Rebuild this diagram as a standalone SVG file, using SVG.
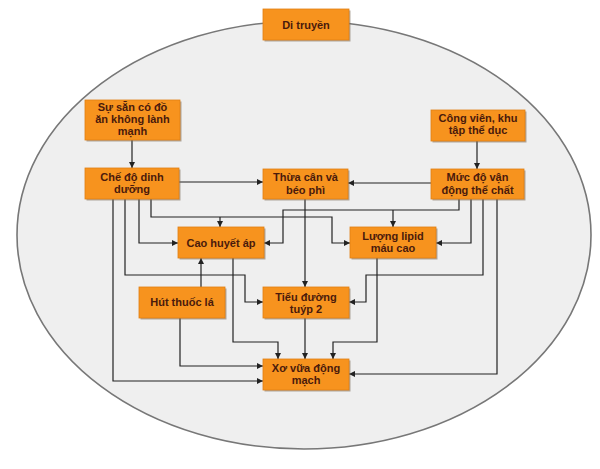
<svg xmlns="http://www.w3.org/2000/svg" width="600" height="469" viewBox="0 0 600 469">
<style>
.bx{fill:#f7931e;stroke:#e07f12;stroke-width:0.8}
.sh{fill:#7a6a5a;opacity:0.55}
.t{font-family:"Liberation Sans",Arial,sans-serif;font-size:11px;font-weight:bold;fill:#4a1a0c;text-anchor:middle}
.c{fill:none;stroke:#222;stroke-width:1.2}
</style>
<defs>
<marker id="a" markerUnits="userSpaceOnUse" markerWidth="7" markerHeight="6" refX="6" refY="3" orient="auto">
<path d="M0,0 L6,3 L0,6 Z" fill="#222"/>
</marker>
</defs>
<rect width="600" height="469" fill="#ffffff"/>
<ellipse cx="304" cy="235" rx="287" ry="214" fill="#efefef" stroke="#777" stroke-width="1.6"/>
<g id="connectors">
<path class="c" marker-end="url(#a)" d="M132,140 V168"/>
<path class="c" marker-end="url(#a)" d="M477,141 V169"/>
<path class="c" marker-end="url(#a)" d="M179,182 H263"/>
<path class="c" marker-end="url(#a)" d="M431,183 H348"/>
<path class="c" marker-end="url(#a)" d="M151,199 V217 H332 V243 H350"/>
<path class="c" marker-end="url(#a)" d="M220,217 V227"/>
<path class="c" marker-end="url(#a)" d="M139,199 V243 H178"/>
<path class="c" marker-end="url(#a)" d="M125,199 V275 H245 V302 H263"/>
<path class="c" marker-end="url(#a)" d="M113,199 V381 H263"/>
<path class="c" marker-end="url(#a)" d="M233,258 V342 H278 V359"/>
<path class="c" marker-end="url(#a)" d="M201,287 V258"/>
<path class="c" marker-end="url(#a)" d="M180,318 V366 H263"/>
<path class="c" marker-end="url(#a)" d="M305,199 V287"/>
<path class="c" marker-end="url(#a)" d="M305,318 V359"/>
<path class="c" marker-end="url(#a)" d="M377,258 V342 H333 V359"/>
<path class="c" marker-end="url(#a)" d="M459,199 V210 H283 V243 H264"/>
<path class="c" marker-end="url(#a)" d="M393,210 V227"/>
<path class="c" marker-end="url(#a)" d="M471,199 V243 H436"/>
<path class="c" marker-end="url(#a)" d="M483,199 V275 H366 V302 H349"/>
<path class="c" marker-end="url(#a)" d="M497,199 V374 H349"/>
</g>
<g id="di-truyen">
<rect class="sh" x="264.5" y="10.5" width="86" height="31"/>
<rect class="bx" x="263" y="9" width="86" height="31"/>
<text class="t" x="306" y="28.5">Di truyền</text>
</g>
<g id="su-san-co">
<rect class="sh" x="86.5" y="101.5" width="95" height="40"/>
<rect class="bx" x="85" y="100" width="95" height="40"/>
<text class="t" x="132.5" y="110.6">Sự sẵn có đồ<tspan x="132.5" dy="12.4">ăn không lành</tspan><tspan x="132.5" dy="12.4">mạnh</tspan></text>
</g>
<g id="cong-vien">
<rect class="sh" x="432.5" y="111.5" width="94" height="31"/>
<rect class="bx" x="431" y="110" width="94" height="31"/>
<text class="t" x="478" y="122">Công viên, khu<tspan x="478" dy="12.4">tập thể dục</tspan></text>
</g>
<g id="che-do">
<rect class="sh" x="86.5" y="169.5" width="94" height="31"/>
<rect class="bx" x="85" y="168" width="94" height="31"/>
<text class="t" x="132" y="180.7">Chế độ dinh<tspan x="132" dy="12.6">dưỡng</tspan></text>
</g>
<g id="thua-can">
<rect class="sh" x="264.5" y="170.5" width="85" height="30"/>
<rect class="bx" x="263" y="169" width="85" height="30"/>
<text class="t" x="305.5" y="181.3">Thừa cân và<tspan x="305.5" dy="12.7">béo phì</tspan></text>
</g>
<g id="muc-do">
<rect class="sh" x="432.5" y="170.5" width="93" height="30"/>
<rect class="bx" x="431" y="169" width="93" height="30"/>
<text class="t" x="477.5" y="181">Mức độ vận<tspan x="477.5" dy="13">động thể chất</tspan></text>
</g>
<g id="cao-huyet-ap">
<rect class="sh" x="179.5" y="228.5" width="86" height="31"/>
<rect class="bx" x="178" y="227" width="86" height="31"/>
<text class="t" x="221" y="246.7">Cao huyết áp</text>
</g>
<g id="luong-lipid">
<rect class="sh" x="351.5" y="228.5" width="86" height="31"/>
<rect class="bx" x="350" y="227" width="86" height="31"/>
<text class="t" x="393" y="239.8">Lượng lipid<tspan x="393" dy="12.4">máu cao</tspan></text>
</g>
<g id="hut-thuoc">
<rect class="sh" x="140.5" y="288.5" width="86" height="31"/>
<rect class="bx" x="139" y="287" width="86" height="31"/>
<text class="t" x="182" y="305.7">Hút thuốc lá</text>
</g>
<g id="tieu-duong">
<rect class="sh" x="264.5" y="288.5" width="86" height="31"/>
<rect class="bx" x="263" y="287" width="86" height="31"/>
<text class="t" x="306" y="300.5">Tiểu đường<tspan x="306" dy="12.4">tuýp 2</tspan></text>
</g>
<g id="xo-vua">
<rect class="sh" x="264.5" y="360.5" width="86" height="31"/>
<rect class="bx" x="263" y="359" width="86" height="31"/>
<text class="t" x="306" y="372">Xơ vữa động<tspan x="306" dy="12.4">mạch</tspan></text>
</g>
</svg>
